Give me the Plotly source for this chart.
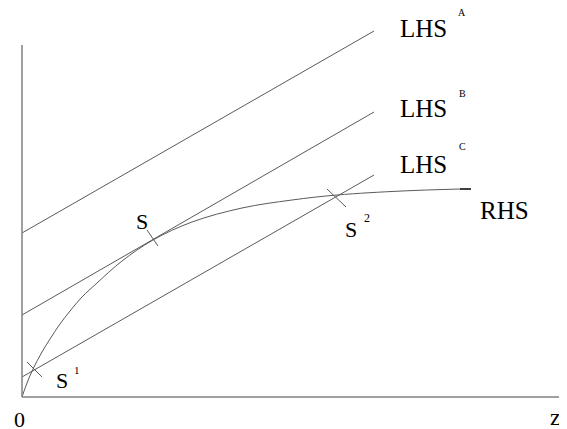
import plotly.graph_objects as go

# schematic: LHS lines vs concave RHS curve (units ~ pixels from origin)
lhs_x = [0, 352]
lhs_a = [164, 366]
lhs_b = [82, 285]
lhs_c = [20, 222]

rhs_x = [0, 5, 11, 20, 28, 38, 48, 60, 75, 100, 131, 170, 220, 270, 315, 380, 438]
rhs_y = [0, 14, 28, 45, 58, 73, 86, 100, 114, 136, 157, 175, 189, 197, 202, 206, 208]

# small cross strokes at the intersection points
tick_s = ([125, 136], [167, 151])
tick_s1 = ([5, 20], [35, 20])
tick_s2 = ([305, 324], [208, 190])
end_dash = ([438, 449], [208, 208])

line_col = '#5a5a5a'
axis_col = '#808080'
serif = 'Liberation Serif, Times New Roman, serif'

fig = go.Figure()
for ys in (lhs_a, lhs_b, lhs_c):
    fig.add_trace(go.Scatter(x=lhs_x, y=ys, mode='lines',
                             line=dict(color=line_col, width=1)))
fig.add_trace(go.Scatter(x=rhs_x, y=rhs_y, mode='lines',
                         line=dict(color=line_col, width=1, shape='spline', smoothing=1)))
for tx, ty in (tick_s, tick_s1, tick_s2):
    fig.add_trace(go.Scatter(x=tx, y=ty, mode='lines',
                             line=dict(color=line_col, width=1)))
fig.add_trace(go.Scatter(x=end_dash[0], y=end_dash[1], mode='lines',
                         line=dict(color='black', width=1.5)))

# axes drawn as shapes
fig.add_shape(type='line', x0=0, y0=0, x1=0, y1=352, line=dict(color=axis_col, width=1.5))
fig.add_shape(type='line', x0=0, y0=0, x1=545, y1=0, line=dict(color=axis_col, width=1.5))

labels = [
    ('LHS', 401, 369, 25), ('A', 440, 385, 10),
    ('LHS', 401, 289, 25), ('B', 440, 304, 10),
    ('LHS', 401, 233, 25), ('C', 440, 251, 10),
    ('RHS', 482, 187, 25),
    ('S', 120, 176, 22),
    ('S', 329, 168, 22), ('2', 345, 179, 12),
    ('S', 40, 17, 22), ('1', 55, 27, 11),
    ('0', -3, -22, 22),
    ('z', 533, -20, 24),
]
for txt, x, y, size in labels:
    fig.add_annotation(x=x, y=y, text=txt, showarrow=False,
                       xanchor='center', yanchor='middle',
                       font=dict(family=serif, size=size, color='black'))

# page body has an 8px margin, so the figure is sized to the remaining area
fig.update_layout(
    width=559, height=421,
    margin=dict(l=0, r=0, t=0, b=0),
    plot_bgcolor='white', paper_bgcolor='white',
    showlegend=False,
    xaxis=dict(range=[-14, 545], visible=False),
    yaxis=dict(range=[-32, 389], visible=False),
)

fig.write_html('out.html')
